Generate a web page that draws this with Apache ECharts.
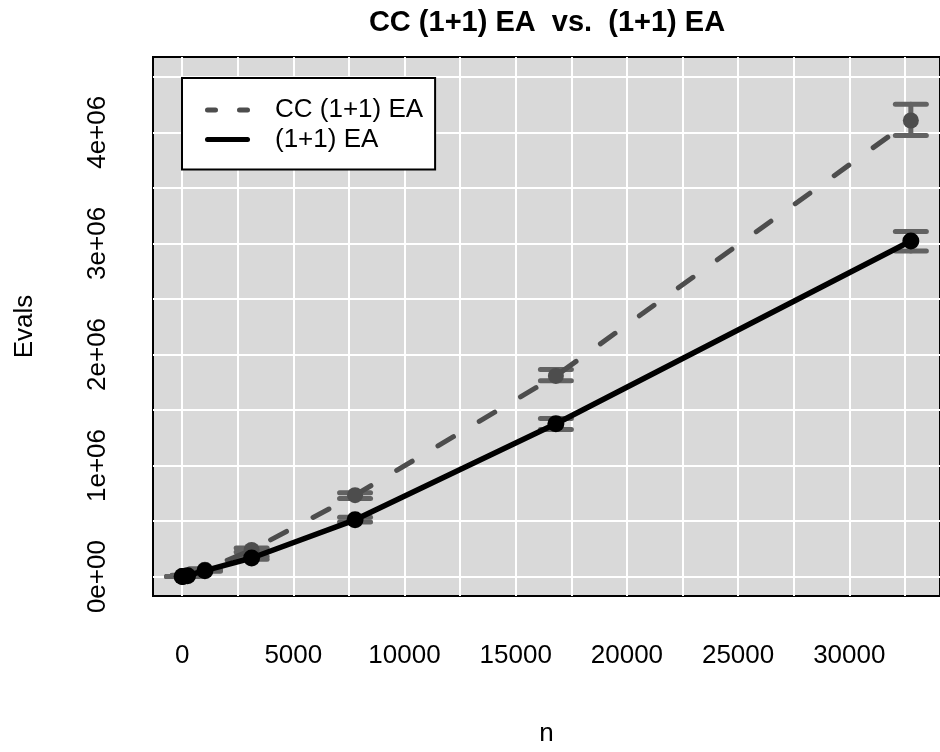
<!DOCTYPE html>
<html>
<head>
<meta charset="utf-8">
<script src="https://cdn.jsdelivr.net/npm/echarts@6/dist/echarts.min.js"></script>
<style>
html, body { margin: 0; padding: 0; background: #fff; }
#chart { width: 940px; height: 752px; }
</style>
</head>
<body>
<div id="chart"></div>
<script>
// problem sizes n = k^5
var nValues = [1, 32, 243, 1024, 3125, 7776, 16807, 32768];

// CC (1+1) EA
var ccMean = [0, 600, 10000, 62000, 240000, 733000, 1807000, 4106000];
var ccLow  = [0, 500, 8000, 55000, 222000, 704000, 1763000, 3971000];
var ccHigh = [0, 700, 12000, 70000, 258000, 755000, 1864000, 4252000];

// (1+1) EA
var eaMean = [0, 500, 8000, 53000, 167000, 511000, 1376000, 3021000];
var eaLow  = [0, 400, 6000, 48000, 155000, 491000, 1325000, 2932000];
var eaHigh = [0, 600, 10000, 58000, 180000, 535000, 1423000, 3107000];

var seriesNames = ['CC (1+1) EA', '(1+1) EA'];

var xTicks = [0, 5000, 10000, 15000, 20000, 25000, 30000];
var xTickLabels = ['0', '5000', '10000', '15000', '20000', '25000', '30000'];
var yTicks = [0, 1000000, 2000000, 3000000, 4000000];
var yTickLabels = ['0e+00', '1e+06', '2e+06', '3e+06', '4e+06'];
var xGrid = [0, 2500, 5000, 7500, 10000, 12500, 15000, 17500, 20000, 22500, 25000, 27500, 30000, 32500];
var yGrid = [0, 500000, 1000000, 1500000, 2000000, 2500000, 3000000, 3500000, 4000000, 4500000];

var FONT = '"Liberation Sans", Arial, Helvetica, sans-serif';

var chart = echarts.init(document.getElementById('chart'));

function pairs(xs, ys) {
    var out = [];
    for (var i = 0; i < xs.length; i++) out.push([xs[i], ys[i]]);
    return out;
}
function bars(xs, lo, hi) {
    var out = [];
    for (var i = 0; i < xs.length; i++) out.push([xs[i], lo[i], hi[i]]);
    return out;
}

function renderErrorBar(params, api) {
    var x = api.value(0);
    var lo = api.coord([x, api.value(1)]);
    var hi = api.coord([x, api.value(2)]);
    var half = 15.5;
    var style = { stroke: '#626262', lineWidth: 5, lineCap: 'round' };
    return {
        type: 'group',
        children: [
            { type: 'line', shape: { x1: lo[0], y1: lo[1], x2: hi[0], y2: hi[1] }, style: style },
            { type: 'line', shape: { x1: lo[0] - half, y1: lo[1], x2: lo[0] + half, y2: lo[1] }, style: style },
            { type: 'line', shape: { x1: hi[0] - half, y1: hi[1], x2: hi[0] + half, y2: hi[1] }, style: style }
        ]
    };
}

var gridLines = [];
xGrid.forEach(function (v) { gridLines.push({ xAxis: v }); });
yGrid.forEach(function (v) { gridLines.push({ yAxis: v }); });

// legend samples: rounded dashes / rounded solid bar
var dashIcon = 'path://M2.5,0h8a2.5,2.5 0 0 1 0,5h-8a2.5,2.5 0 0 1 0,-5zM34.5,0h8a2.5,2.5 0 0 1 0,5h-8a2.5,2.5 0 0 1 0,-5z';
var solidIcon = 'path://M2.5,0h40a2.5,2.5 0 0 1 0,5h-40a2.5,2.5 0 0 1 0,-5z';

var option = {
    animation: false,
    title: {
        text: 'CC (1+1) EA  vs.  (1+1) EA',
        left: 547,
        top: 8,
        textAlign: 'center',
        padding: 0,
        textStyle: { fontFamily: FONT, fontSize: 29, fontWeight: 'bold', color: '#000' }
    },
    grid: {
        left: 153,
        top: 57,
        width: 798,
        height: 547,
        show: true,
        backgroundColor: '#d9d9d9',
        borderColor: '#000',
        borderWidth: 2
    },
    legend: {
        orient: 'vertical',
        left: 182,
        top: 78,
        z: 10,
        padding: [19, 12, 17, 23],
        itemGap: 3.5,
        itemWidth: 45,
        itemHeight: 5,
        backgroundColor: '#fff',
        borderColor: '#000',
        borderWidth: 2,
        borderRadius: 0,
        selectedMode: false,
        itemStyle: { borderWidth: 0 },
        textStyle: { fontFamily: FONT, fontSize: 26, color: '#000', lineHeight: 26, padding: [0, 0, 0, 20] },
        data: [
            { name: seriesNames[0], icon: dashIcon },
            { name: seriesNames[1], icon: solidIcon }
        ]
    },
    xAxis: {
        type: 'value',
        min: -1310,
        max: 34079,
        name: 'n',
        nameLocation: 'middle',
        nameGap: 125,
        nameTextStyle: { fontFamily: FONT, fontSize: 26, color: '#000' },
        axisLine: { show: false },
        splitLine: { show: false },
        axisTick: { show: true, inside: false, length: 18, customValues: xTicks, lineStyle: { color: '#000', width: 2 } },
        axisLabel: {
            customValues: xTicks,
            margin: 47,
            fontFamily: FONT,
            fontSize: 26,
            color: '#000',
            formatter: function (v) {
                var i = xTicks.indexOf(v);
                return i >= 0 ? xTickLabels[i] : '';
            }
        }
    },
    yAxis: {
        type: 'value',
        min: -174900,
        max: 4678000,
        name: 'Evals',
        nameLocation: 'middle',
        nameRotate: 90,
        nameGap: 115,
        nameTextStyle: { fontFamily: FONT, fontSize: 26, color: '#000' },
        axisLine: { show: false },
        splitLine: { show: false },
        axisTick: { show: true, inside: false, length: 18, customValues: yTicks, lineStyle: { color: '#000', width: 2 } },
        axisLabel: {
            customValues: yTicks,
            rotate: 90,
            margin: 42,
            fontFamily: FONT,
            fontSize: 26,
            color: '#000',
            formatter: function (v) {
                var i = yTicks.indexOf(v);
                return i >= 0 ? yTickLabels[i] : '';
            }
        }
    },
    series: [
        {
            name: 'grid',
            type: 'line',
            data: [[0, 0]],
            showSymbol: false,
            silent: true,
            z: 1,
            lineStyle: { width: 0, opacity: 0 },
            markLine: {
                z: 1,
                silent: true,
                symbol: 'none',
                label: { show: false },
                lineStyle: { color: '#fff', width: 2, type: 'solid' },
                data: gridLines
            }
        },
        {
            name: 'ccErr',
            type: 'custom',
            z: 2,
            renderItem: renderErrorBar,
            data: bars(nValues, ccLow, ccHigh)
        },
        {
            name: 'eaErr',
            type: 'custom',
            z: 2,
            renderItem: renderErrorBar,
            data: bars(nValues, eaLow, eaHigh)
        },
        {
            name: seriesNames[0],
            type: 'line',
            z: 3,
            data: pairs(nValues, ccMean),
            symbol: 'circle',
            symbolSize: 16,
            itemStyle: { color: '#4d4d4d', borderWidth: 0 },
            lineStyle: { color: '#4d4d4d', width: 5, type: [18, 30], cap: 'round' }
        },
        {
            name: seriesNames[1],
            type: 'line',
            z: 4,
            data: pairs(nValues, eaMean),
            symbol: 'circle',
            symbolSize: 17,
            itemStyle: { color: '#000', borderWidth: 0 },
            lineStyle: { color: '#000', width: 5.5, cap: 'round' }
        }
    ]
};

chart.setOption(option);
window.addEventListener('resize', chart.resize);
</script>
</body>
</html>
